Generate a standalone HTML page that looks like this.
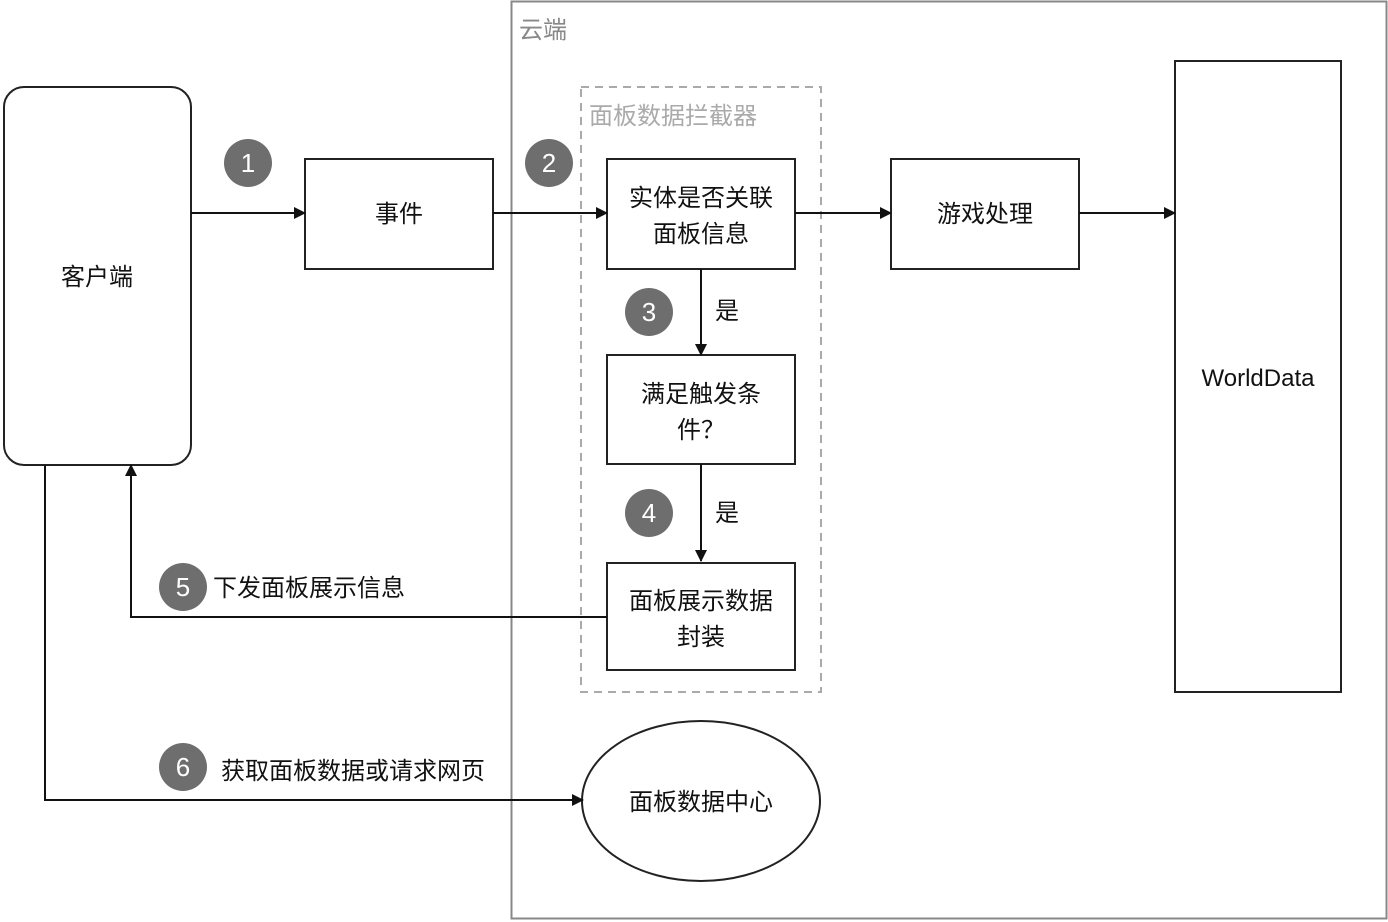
<!DOCTYPE html>
<html><head><meta charset="utf-8"><style>
html,body{margin:0;padding:0;background:#fff;}
svg{display:block;}
text{font-family:"Liberation Sans","Noto Sans CJK SC",sans-serif;}
</style></head><body>
<svg width="1388" height="922" xmlns="http://www.w3.org/2000/svg">
<defs><marker id="a" markerWidth="12" markerHeight="12" refX="11" refY="6" orient="auto" markerUnits="userSpaceOnUse"><path d="M0,0 L12,6 L0,12 z" fill="#111"/></marker></defs>
<rect x="511.5" y="1.5" width="875" height="917" fill="none" stroke="#888" stroke-width="2"/>
<text x="519" y="38" font-size="24" fill="#888">云端</text>
<rect x="581" y="87" width="240" height="605" fill="none" stroke="#aaa" stroke-width="2" stroke-dasharray="8,6"/>
<text x="589" y="124" font-size="24" fill="#aaa">面板数据拦截器</text>
<rect x="4" y="87" width="187" height="378" rx="20" fill="#fff" stroke="#222" stroke-width="2"/>
<text x="97" y="285" font-size="24" text-anchor="middle" fill="#111">客户端</text>
<rect x="305" y="159" width="188" height="110" fill="#fff" stroke="#222" stroke-width="2"/>
<text x="399" y="222" font-size="24" text-anchor="middle" fill="#111">事件</text>
<rect x="607" y="159" width="188" height="110" fill="#fff" stroke="#222" stroke-width="2"/>
<text x="701" y="206" font-size="24" text-anchor="middle" fill="#111">实体是否关联</text>
<text x="701" y="242" font-size="24" text-anchor="middle" fill="#111">面板信息</text>
<rect x="891" y="159" width="188" height="110" fill="#fff" stroke="#222" stroke-width="2"/>
<text x="985" y="222" font-size="24" text-anchor="middle" fill="#111">游戏处理</text>
<rect x="1175" y="61" width="166" height="631" fill="#fff" stroke="#222" stroke-width="2"/>
<text x="1258" y="386" font-size="24" text-anchor="middle" fill="#111">WorldData</text>
<rect x="607" y="355" width="188" height="109" fill="#fff" stroke="#222" stroke-width="2"/>
<text x="701" y="402" font-size="24" text-anchor="middle" fill="#111">满足触发条</text>
<text x="701" y="438" font-size="24" text-anchor="middle" fill="#111">件？</text>
<rect x="607" y="563" width="188" height="107" fill="#fff" stroke="#222" stroke-width="2"/>
<text x="701" y="609" font-size="24" text-anchor="middle" fill="#111">面板展示数据</text>
<text x="701" y="645" font-size="24" text-anchor="middle" fill="#111">封装</text>
<ellipse cx="701" cy="801" rx="119" ry="80" fill="#fff" stroke="#222" stroke-width="2"/>
<text x="701" y="810" font-size="24" text-anchor="middle" fill="#111">面板数据中心</text>
<g stroke="#111" stroke-width="2" fill="none" marker-end="url(#a)">
<line x1="191" y1="213" x2="305" y2="213"/>
<line x1="493" y1="213" x2="607" y2="213"/>
<line x1="795" y1="213" x2="891" y2="213"/>
<line x1="1079" y1="213" x2="1175" y2="213"/>
<line x1="701" y1="269" x2="701" y2="355"/>
<line x1="701" y1="464" x2="701" y2="561"/>
<polyline points="607,617 131,617 131,465"/>
<polyline points="45,465 45,800 583,800"/>
</g>
<g fill="#6e6e6e">
<circle cx="248" cy="163" r="24"/><circle cx="549" cy="163" r="24"/>
<circle cx="649" cy="312" r="24"/><circle cx="649" cy="513" r="24"/>
<circle cx="183" cy="587" r="24"/><circle cx="183" cy="767" r="24"/>
</g>
<g fill="#fff" font-size="26" text-anchor="middle">
<text x="248" y="172">1</text><text x="549" y="172">2</text>
<text x="649" y="321">3</text><text x="649" y="522">4</text>
<text x="183" y="596">5</text><text x="183" y="776">6</text>
</g>
<text x="715" y="319" font-size="24" fill="#111">是</text>
<text x="715" y="521" font-size="24" fill="#111">是</text>
<text x="213" y="596" font-size="24" fill="#111">下发面板展示信息</text>
<text x="221" y="779" font-size="24" fill="#111">获取面板数据或请求网页</text>
</svg>
</body></html>
